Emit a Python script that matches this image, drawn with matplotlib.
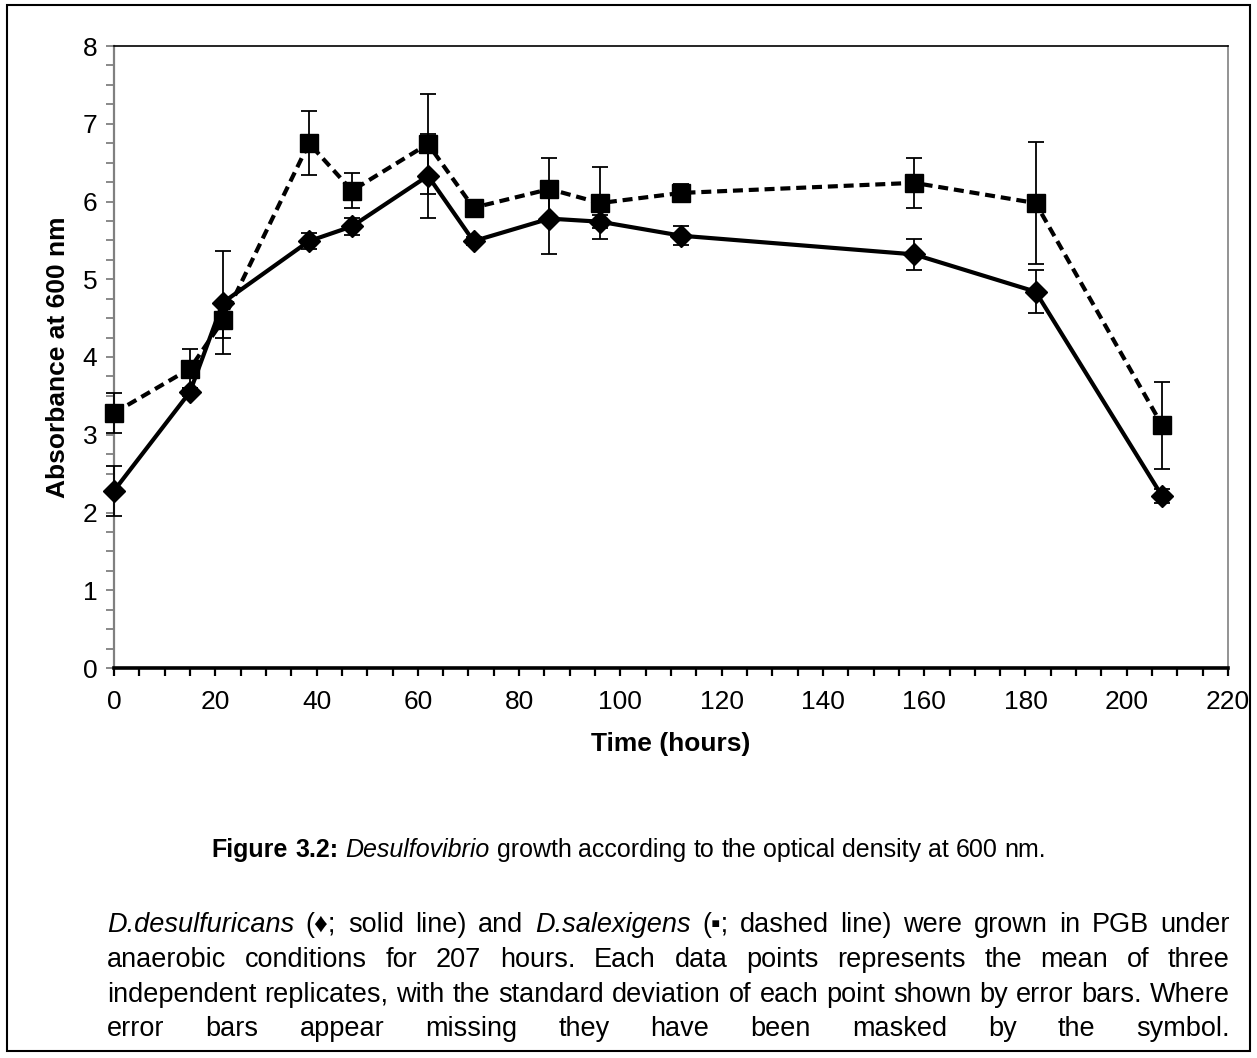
import matplotlib
matplotlib.use("Agg")
import matplotlib.pyplot as plt
from matplotlib.ticker import MultipleLocator
from matplotlib.patches import Rectangle

# ---- data ----
hours = [0, 15, 21.5, 38.5, 47, 62, 71, 86, 96, 112, 158, 182, 207]
od_desulfuricans = [2.28, 3.55, 4.70, 5.49, 5.68, 6.33, 5.49, 5.78, 5.74, 5.56, 5.32, 4.84, 2.21]
sd_desulfuricans = [0.32, 0.05, 0.66, 0.10, 0.11, 0.54, 0.05, 0.46, 0.08, 0.12, 0.20, 0.28, 0.09]
od_salexigens = [3.28, 3.85, 4.47, 6.75, 6.14, 6.74, 5.92, 6.16, 5.98, 6.11, 6.24, 5.98, 3.12]
sd_salexigens = [0.26, 0.25, 0.23, 0.41, 0.23, 0.64, 0.05, 0.40, 0.46, 0.11, 0.32, 0.78, 0.56]
x_ticks = list(range(0, 221, 20))
y_ticks = list(range(0, 9))

FONT = ["Liberation Sans", "DejaVu Sans"]
plt.rcParams["font.family"] = FONT

W, H = 1257, 1058
fig = plt.figure(figsize=(W / 100, H / 100), dpi=100)
ax = fig.add_axes([114 / W, 1 - 668 / H, (1228 - 114) / W, (668 - 46) / H])

# error bars
ax.errorbar(hours, od_salexigens, yerr=sd_salexigens, fmt="none", ecolor="black",
            elinewidth=1.3, capsize=5.8, capthick=1.3, zorder=3, clip_on=False)
ax.errorbar(hours, od_desulfuricans, yerr=sd_desulfuricans, fmt="none", ecolor="black",
            elinewidth=1.3, capsize=5.8, capthick=1.3, zorder=3, clip_on=False)
# lines
ax.plot(hours, od_salexigens, color="black", lw=3, linestyle=(0, (2.4, 1.4)),
        marker="s", markersize=12.5, zorder=4, clip_on=False)
ax.plot(hours, od_desulfuricans, color="black", lw=3, linestyle="-",
        marker="D", markersize=11.5, zorder=5, clip_on=False)

ax.set_xlim(0, 220)
ax.set_ylim(0, 8)
ax.set_xticks(x_ticks)
ax.set_yticks(y_ticks)
ax.xaxis.set_minor_locator(MultipleLocator(5))
ax.yaxis.set_minor_locator(MultipleLocator(0.25))

ax.spines["left"].set_color("#808080")
ax.spines["left"].set_linewidth(1.6)
ax.spines["right"].set_color("#808080")
ax.spines["right"].set_linewidth(1.2)
ax.spines["top"].set_color("black")
ax.spines["top"].set_linewidth(1.2)
ax.spines["bottom"].set_color("black")
ax.spines["bottom"].set_linewidth(2.6)

ax.tick_params(axis="y", which="both", direction="out", length=6, width=1.3,
               color="#808080", labelsize=19, pad=6)
ax.tick_params(axis="x", which="both", direction="out", length=6, width=1.6,
               color="black", labelsize=19, pad=10)

ax.set_xlabel("Time (hours)", fontsize=19, fontweight="bold", labelpad=13)
ax.set_ylabel("Absorbance at 600 nm", fontsize=19, fontweight="bold", labelpad=9)

# figure border
fig.patches.append(Rectangle((7 / W, 1 - 1051 / H), (1250 - 7) / W, (1051 - 5) / H,
                             transform=fig.transFigure, fill=False,
                             edgecolor="black", linewidth=1.5))

fig.canvas.draw()
renderer = fig.canvas.get_renderer()
helpers = []


def make(word, st, size):
    return fig.text(0, 0, word, fontsize=size,
                    fontstyle="italic" if st == "i" else "normal",
                    fontweight="bold" if st == "b" else "normal",
                    va="baseline", ha="left", family=FONT)


def space_width(size):
    a2 = make("a a", "n", size)
    a1 = make("aa", "n", size)
    w = a2.get_window_extent(renderer).width - a1.get_window_extent(renderer).width
    helpers.extend([a2, a1])
    return w


def place_line(tokens, y_px, x0, x1, size, mode="justify", center=None):
    texts = [make(w, s, size) for w, s in tokens]
    widths = [t.get_window_extent(renderer).width for t in texts]
    sw = space_width(size)
    if mode == "justify" and len(texts) > 1:
        gap = (x1 - x0 - sum(widths)) / (len(texts) - 1)
        x = x0
    else:
        gap = sw
        total = sum(widths) + sw * (len(texts) - 1)
        x = center - total / 2
    for t, w in zip(texts, widths):
        t.set_position((x / W, 1 - y_px / H))
        x += w + gap


heading = [("Figure", "b"), ("3.2:", "b"), ("Desulfovibrio", "i"), ("growth", "n"),
           ("according", "n"), ("to", "n"), ("the", "n"), ("optical", "n"),
           ("density", "n"), ("at", "n"), ("600", "n"), ("nm.", "n")]
place_line(heading, 857, 0, 0, 18, mode="center", center=629)

lines = [
    [("D.desulfuricans", "i"), ("(\u2666;", "n"), ("solid", "n"), ("line)", "n"), ("and", "n"),
     ("D.salexigens", "i"), ("(\u25aa;", "n"), ("dashed", "n"), ("line)", "n"), ("were", "n"),
     ("grown", "n"), ("in", "n"), ("PGB", "n"), ("under", "n")],
    [(w, "n") for w in "anaerobic conditions for 207 hours. Each data points represents the mean of three".split()],
    [(w, "n") for w in "independent replicates, with the standard deviation of each point shown by error bars. Where".split()],
    [(w, "n") for w in "error bars appear missing they have been masked by the symbol.".split()],
]
ys = [932, 967, 1002, 1036]
for toks, y in zip(lines, ys):
    place_line(toks, y, 107, 1230, 19.5)

for t in helpers:
    t.set_visible(False)

fig.savefig("out.png", dpi=100)
